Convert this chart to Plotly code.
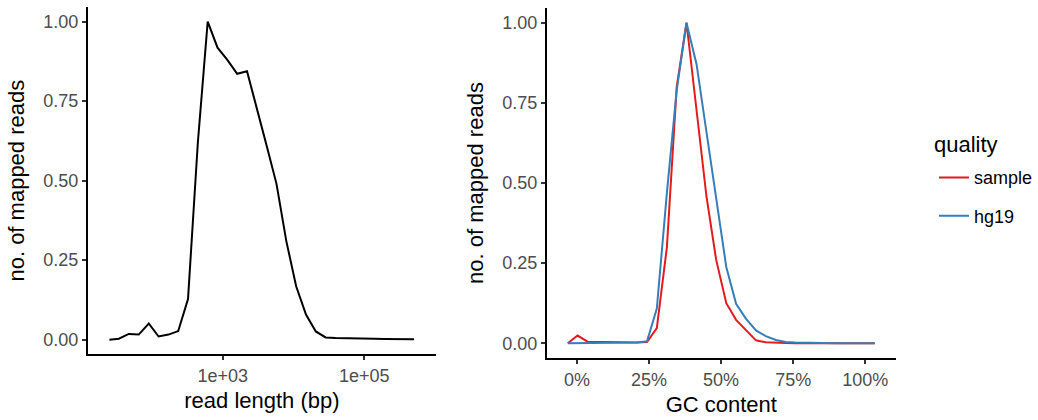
import plotly.graph_objects as go

# Read-length distribution (bp, log-spaced bins) and normalised read counts
read_length = [25, 34, 47, 65, 90, 124, 171, 235, 323, 445, 613, 844, 1162,
               1601, 2204, 3035, 4179, 5755, 7925, 10913, 15027, 20693, 28495,
               39238, 54031, 74402, 102453, 141080, 194270, 267514, 368372,
               507256]
length_reads = [0.000, 0.003, 0.018, 0.016, 0.051, 0.010, 0.016, 0.027, 0.128,
                0.620, 1.000, 0.918, 0.880, 0.836, 0.844, 0.730, 0.610, 0.490,
                0.310, 0.168, 0.079, 0.026, 0.007, 0.005, 0.005, 0.004, 0.003,
                0.003, 0.002, 0.002, 0.001, 0.001]

# GC content bins (%) and normalised read counts per quality group
gc_content = [-3.2, 0.2, 3.7, 7.1, 10.6, 14.0, 17.4, 20.8, 24.3, 27.7, 31.2,
              34.6, 38.0, 41.5, 44.9, 48.3, 51.8, 55.2, 58.6, 62.1, 65.5, 69.0,
              72.4, 75.8, 79.3, 82.7, 86.2, 89.6, 93.0, 96.5, 99.9, 103.3]
gc_sample = [0.000, 0.024, 0.005, 0.004, 0.004, 0.003, 0.002, 0.002, 0.004,
             0.047, 0.300, 0.800, 1.000, 0.735, 0.460, 0.260, 0.125, 0.073,
             0.040, 0.009, 0.003, 0.001, 0.001, 0.000, 0.000, 0.000, 0.000,
             0.000, 0.000, 0.000, 0.000, 0.000]
gc_hg19 = [0.000, 0.000, 0.000, 0.000, 0.000, 0.000, 0.001, 0.002, 0.006,
           0.108, 0.470, 0.790, 1.000, 0.870, 0.660, 0.450, 0.238, 0.123,
           0.077, 0.040, 0.022, 0.010, 0.004, 0.002, 0.001, 0.001, 0.000,
           0.000, 0.000, 0.000, 0.000, 0.000]

y_ticks = [0, 0.25, 0.5, 0.75, 1.0]
y_labels = ["0.00", "0.25", "0.50", "0.75", "1.00"]
len_ticks = [1e3, 1e5]
len_labels = ["1e+03", "1e+05"]
gc_ticks = [0, 25, 50, 75, 100]
gc_labels = ["0%", "25%", "50%", "75%", "100%"]

FONT = "Liberation Sans, Arial, Helvetica, sans-serif"
RED = "#E41A1C"
BLUE = "#377EB8"

fig = go.Figure()
fig.add_trace(go.Scatter(x=read_length, y=length_reads, mode="lines",
                         line=dict(color="black", width=2),
                         xaxis="x", yaxis="y", showlegend=False))
fig.add_trace(go.Scatter(x=gc_content, y=gc_sample, mode="lines", name="sample",
                         line=dict(color=RED, width=2), legendgroup="a",
                         xaxis="x2", yaxis="y2"))
fig.add_trace(go.Scatter(x=gc_content, y=gc_hg19, mode="lines", name="hg19",
                         line=dict(color=BLUE, width=2), legendgroup="b",
                         xaxis="x2", yaxis="y2"))

axis_common = dict(showgrid=False, zeroline=False, showline=True,
                   linecolor="black", linewidth=1.8, ticks="outside",
                   ticklen=4, tickwidth=1.5, tickcolor="#333333",
                   tickfont=dict(family=FONT, size=18, color="#4D4D4D"),
                   automargin=False)
title_font = dict(family=FONT, size=22, color="black")

fig.update_layout(
    width=1038, height=420,
    margin=dict(l=0, r=0, t=0, b=0),
    paper_bgcolor="white", plot_bgcolor="white",
    font=dict(family=FONT),
    xaxis=dict(axis_common, type="log", domain=[0.0851, 0.4225],
               range=[1.093, 6.015], tickvals=len_ticks, ticktext=len_labels,
               anchor="y",
               title=dict(text="read length (bp)", font=title_font, standoff=8)),
    yaxis=dict(axis_common, domain=[0.1564, 0.9833], range=[-0.046, 1.046],
               tickvals=y_ticks, ticktext=y_labels, anchor="x",
               title=dict(text="no. of mapped reads", font=title_font, standoff=13)),
    xaxis2=dict(axis_common, domain=[0.5299, 0.8680], range=[-10.45, 110.6],
                tickvals=gc_ticks, ticktext=gc_labels, anchor="y2",
                title=dict(text="GC content", font=title_font, standoff=8)),
    yaxis2=dict(axis_common, domain=[0.1469, 0.9817], range=[-0.047, 1.047],
                tickvals=y_ticks, ticktext=y_labels, anchor="x2",
                title=dict(text="no. of mapped reads", font=title_font, standoff=13)),
    legend=dict(x=0.905, y=0.621, xanchor="left", yanchor="top",
                font=dict(family=FONT, size=18, color="black"),
                tracegroupgap=12, traceorder="grouped", bgcolor="rgba(0,0,0,0)"),
    annotations=[dict(text="quality", x=0.9027, y=0.657, xref="paper", yref="paper",
                      xanchor="left", yanchor="middle", showarrow=False,
                      font=dict(family=FONT, size=22, color="black"))],
)

fig.write_html("out.html")
